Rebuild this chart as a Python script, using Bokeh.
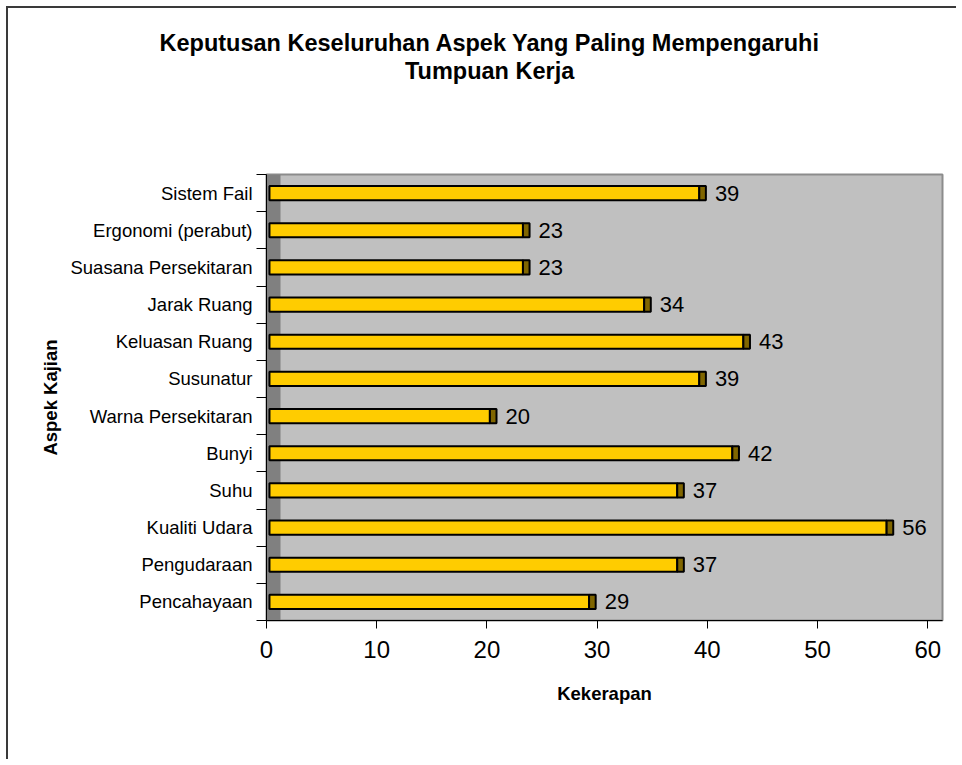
from bokeh.plotting import figure
from bokeh.models import Range1d, FixedTicker, Title, ColumnDataSource
from bokeh.core.properties import value
from bokeh.embed import file_html
from bokeh.resources import INLINE

# ---- data ----
categories = ["Sistem Fail", "Ergonomi (perabut)", "Suasana Persekitaran", "Jarak Ruang",
              "Keluasan Ruang", "Susunatur", "Warna Persekitaran", "Bunyi", "Suhu",
              "Kualiti Udara", "Pengudaraan", "Pencahayaan"]
counts = [39, 23, 23, 34, 43, 39, 20, 42, 37, 56, 37, 29]
x_ticks = [0, 10, 20, 30, 40, 50, 60]
title_lines = ["Keputusan Keseluruhan Aspek Yang Paling Mempengaruhi", "Tumpuan Kerja"]
x_title = "Kekerapan"
y_title = "Aspek Kajian"

# ---- style constants ----
FONT = "Liberation Sans"
BAR_SHIFT = 0.27   # 3D offset of the bar front face
CAP = 0.6          # depth of the darker bar end
BAR_H = 0.38
WALL = 1.27        # width of the darker side wall
X_MAX = 61.34
TITLE_SIZE = 23.5
TITLE_EM = [28.17, 7.28]     # approximate text widths in em (bold)
TITLE_CENTER = 224           # title centre, px right of the plot frame's left edge
TITLE_GAP = 88               # space between title and plot frame

n = len(categories)
ypos = [n - 1 - i + 0.5 for i in range(n)]

src = ColumnDataSource(dict(
    y=ypos,
    cat=categories,
    v=counts,
    left=[BAR_SHIFT] * n,
    right=[c + BAR_SHIFT for c in counts],
    cap_right=[c + BAR_SHIFT + CAP for c in counts],
    bottom=[y - BAR_H / 2 for y in ypos],
    top=[y + BAR_H / 2 for y in ypos],
    label=[str(c) for c in counts],
))

p = figure(width=950, height=753, x_range=Range1d(0, X_MAX), y_range=Range1d(0, n),
           output_backend="svg", toolbar_location=None,
           min_border_left=258, min_border_right=16, min_border_top=166,
           min_border_bottom=141)
p.margin = (6, 0, 0, 6)
p.styles = {"border-left": "2px solid #3a3a3a", "border-top": "2px solid #3a3a3a"}

p.background_fill_color = "#C0C0C0"
p.border_fill_color = "white"
p.outline_line_color = "#8c8c8c"
p.outline_line_width = 2
p.xgrid.visible = False
p.ygrid.visible = False

# side wall
p.quad(left=[0], right=[WALL], bottom=[0], top=[n], fill_color="#808080", line_color=None)

# bars
p.quad(left="left", right="right", bottom="bottom", top="top", source=src,
       fill_color="#FFCC00", line_color="black", line_width=2)
p.quad(left="right", right="cap_right", bottom="bottom", top="top", source=src,
       fill_color="#806600", line_color="black", line_width=2)

# value labels
p.text(x="cap_right", y="y", text="label", source=src, x_offset=9,
       text_font=value(FONT), text_font_size="22px", text_color="black",
       text_align="left", text_baseline="middle")

# y axis
p.yaxis.ticker = FixedTicker(ticks=ypos, minor_ticks=list(range(n + 1)))
p.yaxis.major_label_overrides = {y: c for y, c in zip(ypos, categories)}
p.yaxis.major_tick_out = 0
p.yaxis.major_tick_in = 0
p.yaxis.minor_tick_out = 10
p.yaxis.minor_tick_in = 0
p.yaxis.minor_tick_line_color = "black"
p.yaxis.major_label_standoff = 4
p.yaxis.major_label_text_font = FONT
p.yaxis.major_label_text_font_size = "18.5px"
p.yaxis.major_label_text_color = "black"
p.yaxis.axis_line_color = "black"
p.yaxis.axis_label = y_title
p.yaxis.axis_label_text_font = FONT
p.yaxis.axis_label_text_font_style = "bold"
p.yaxis.axis_label_text_font_size = "18.5px"
p.yaxis.axis_label_text_color = "black"
p.yaxis.axis_label_standoff = 6

# x axis
p.xaxis.ticker = FixedTicker(ticks=x_ticks, minor_ticks=[])
p.xaxis.major_tick_out = 8
p.xaxis.major_tick_in = 0
p.xaxis.major_tick_line_color = "black"
p.xaxis.major_label_standoff = 12
p.xaxis.major_label_text_font = FONT
p.xaxis.major_label_text_font_size = "24px"
p.xaxis.major_label_text_color = "black"
p.xaxis.axis_line_color = "black"
p.xaxis.axis_label = x_title
p.xaxis.axis_label_text_font = FONT
p.xaxis.axis_label_text_font_style = "bold"
p.xaxis.axis_label_text_font_size = "18.5px"
p.xaxis.axis_label_text_color = "black"
p.xaxis.axis_label_standoff = 22

# title: spacer nearest the frame, then the two title lines
p.add_layout(Title(text=" ", text_font_size="1px", standoff=TITLE_GAP), "above")
for t, em in zip(reversed(title_lines), reversed(TITLE_EM)):
    off = TITLE_CENTER - em * TITLE_SIZE / 2
    p.add_layout(Title(text=t, align="left", offset=off, standoff=0,
                       text_font=FONT, text_font_size=f"{TITLE_SIZE}px",
                       text_font_style="bold", text_color="black"), "above")

open("out.html", "w").write(file_html(p, INLINE))
